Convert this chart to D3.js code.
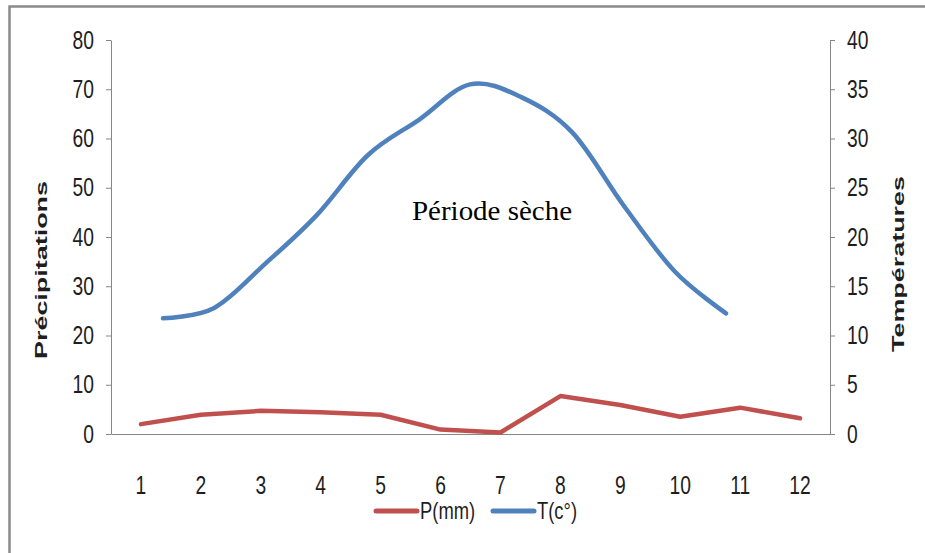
<!DOCTYPE html>
<html>
<head>
<meta charset="utf-8">
<script src="https://cdn.jsdelivr.net/npm/d3@7"></script>
<style>
  body { margin: 0; background: #fff; }
  svg { display: block; }
</style>
</head>
<body>
<svg id="chart" width="925" height="553"></svg>
<script>
// Months of the year (category axis)
const months = [1, 2, 3, 4, 5, 6, 7, 8, 9, 10, 11, 12];
// Monthly precipitation, mm (left axis)
const precip = [2.0, 3.9, 4.7, 4.4, 3.9, 0.9, 0.3, 7.7, 5.9, 3.5, 5.35, 3.2];
// Monthly mean temperature, °C (right axis, secondary category axis)
const temp = [11.75, 12.8, 17.3, 22.2, 28.3, 31.9, 35.5, 34.2, 30.6, 23.2, 16.5, 12.25];
// Axis ticks
const precipTicks = [0, 10, 20, 30, 40, 50, 60, 70, 80];
const tempTicks = [0, 5, 10, 15, 20, 25, 30, 35, 40];
// Series labels
const seriesNames = ["P(mm)", "T(c°)"];
const seriesColors = ["#C0504D", "#4F81BD"];

const svg = d3.select("#chart");
const W = 925, H = 553;
const plot = { left: 111, right: 830, top: 40, bottom: 434 };
const sans = "'Liberation Sans', Arial, sans-serif";
const axisGray = "#868686";
const textColor = "#1e1e1e";
const squeeze = 0.77; // horizontal condensing of the label font

// Condense text horizontally around its anchor point
function condense(sel, f) {
  sel.each(function () {
    const t = d3.select(this);
    const tx = +t.attr("x") || 0, ty = +t.attr("y") || 0;
    t.attr("x", 0).attr("y", 0)
      .attr("transform", `translate(${tx},${ty}) scale(${f},1)`);
  });
}

// Chart frame (left and top edges)
svg.append("path")
  .attr("d", `M9.5,${H} V6.5 H${W}`)
  .attr("fill", "none")
  .attr("stroke", "#8a8a8a")
  .attr("stroke-width", 2.5);

// Scales
const x = d3.scaleBand().domain(months).range([plot.left, plot.right]);
const xT = d3.scalePoint().domain(months).range([plot.left + 52, plot.right - 104]);
const yP = d3.scaleLinear().domain([0, 80]).range([plot.bottom, plot.top]);
const yT = d3.scaleLinear().domain([0, 40]).range([plot.bottom, plot.top]);

function styleAxis(g) {
  g.select(".domain").attr("stroke", axisGray);
  g.selectAll(".tick line").attr("stroke", axisGray);
  g.selectAll(".tick text")
    .attr("fill", textColor)
    .style("font-family", sans)
    .style("font-size", "25px")
    .call(condense, squeeze);
}

// Left axis (precipitation)
svg.append("g")
  .attr("transform", `translate(${plot.left},0)`)
  .call(d3.axisLeft(yP).tickValues(precipTicks).tickSize(5).tickSizeOuter(0).tickPadding(12))
  .call(styleAxis);

// Right axis (temperature)
svg.append("g")
  .attr("transform", `translate(${plot.right},0)`)
  .call(d3.axisRight(yT).tickValues(tempTicks).tickSize(5).tickSizeOuter(0).tickPadding(12))
  .call(styleAxis);

// Bottom category axis
svg.append("g")
  .attr("transform", `translate(0,${plot.bottom})`)
  .call(d3.axisBottom(x).tickSize(0).tickSizeOuter(0).tickPadding(42))
  .call(styleAxis);

// Axis titles
svg.append("text")
  .attr("transform", `translate(47,270) rotate(-90)`)
  .attr("text-anchor", "middle")
  .attr("textLength", 178)
  .attr("lengthAdjust", "spacingAndGlyphs")
  .style("font-family", sans)
  .style("font-weight", "bold")
  .style("font-size", "16px")
  .attr("fill", textColor)
  .text("Précipitations");

svg.append("text")
  .attr("transform", `translate(904,264) rotate(-90)`)
  .attr("text-anchor", "middle")
  .attr("textLength", 176)
  .attr("lengthAdjust", "spacingAndGlyphs")
  .style("font-family", sans)
  .style("font-weight", "bold")
  .style("font-size", "16px")
  .attr("fill", textColor)
  .text("Températures");

// Precipitation line
svg.append("path")
  .datum(months.map((m, i) => [m, precip[i]]))
  .attr("fill", "none")
  .attr("stroke", seriesColors[0])
  .attr("stroke-width", 4.5)
  .attr("stroke-linecap", "round")
  .attr("stroke-linejoin", "round")
  .attr("d", d3.line()
    .x(d => x(d[0]) + x.bandwidth() / 2)
    .y(d => yP(d[1])));

// Temperature line (smoothed)
svg.append("path")
  .datum(months.map((m, i) => [m, temp[i]]))
  .attr("fill", "none")
  .attr("stroke", seriesColors[1])
  .attr("stroke-width", 4.5)
  .attr("stroke-linecap", "round")
  .attr("stroke-linejoin", "round")
  .attr("d", d3.line()
    .curve(d3.curveCardinal.tension(0))
    .x(d => xT(d[0]))
    .y(d => yT(d[1])));

// Annotation
svg.append("text")
  .attr("x", 412)
  .attr("y", 220)
  .attr("textLength", 160)
  .attr("lengthAdjust", "spacingAndGlyphs")
  .style("font-family", "'Liberation Serif', 'Times New Roman', serif")
  .style("font-size", "28px")
  .attr("fill", "#000")
  .text("Période sèche");

// Legend
const legendItems = [
  { name: seriesNames[0], color: seriesColors[0], x0: 376 },
  { name: seriesNames[1], color: seriesColors[1], x0: 493 }
];
const legend = svg.append("g");
legendItems.forEach(item => {
  legend.append("line")
    .attr("x1", item.x0).attr("x2", item.x0 + 41)
    .attr("y1", 511).attr("y2", 511)
    .attr("stroke", item.color)
    .attr("stroke-width", 5)
    .attr("stroke-linecap", "round");
  legend.append("text")
    .attr("x", item.x0 + 44)
    .attr("y", 519)
    .style("font-family", sans)
    .style("font-size", "23px")
    .attr("fill", textColor)
    .text(item.name)
    .call(condense, 0.8);
});
</script>
</body>
</html>
